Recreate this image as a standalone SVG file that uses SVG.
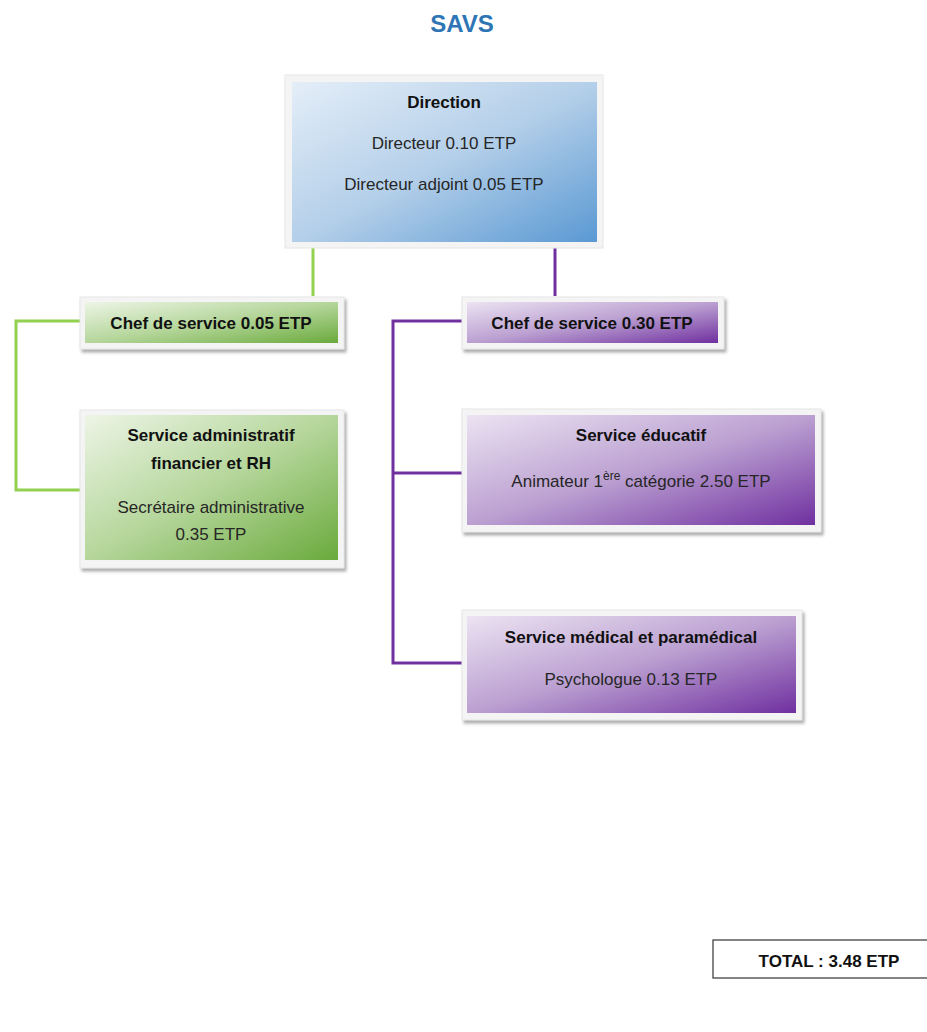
<svg xmlns="http://www.w3.org/2000/svg" width="927" height="1032" viewBox="0 0 927 1032">
<defs>
<linearGradient id="gBlue" x1="0" y1="0" x2="1" y2="1"><stop offset="0" stop-color="#e4eef8"/><stop offset="0.5" stop-color="#b4cfe9"/><stop offset="1" stop-color="#5a99d3"/></linearGradient>
<linearGradient id="gGreen" x1="0" y1="0" x2="1" y2="1"><stop offset="0" stop-color="#edf5e6"/><stop offset="0.5" stop-color="#b5d69b"/><stop offset="1" stop-color="#6aaa3c"/></linearGradient>
<linearGradient id="gPurple" x1="0" y1="0" x2="1" y2="1"><stop offset="0" stop-color="#ece3f2"/><stop offset="0.5" stop-color="#bba0d1"/><stop offset="1" stop-color="#7030a0"/></linearGradient>
<filter id="sh" x="-5%" y="-5%" width="115%" height="120%"><feDropShadow dx="2" dy="3" stdDeviation="1.5" flood-color="#8a8a8a" flood-opacity="0.7"/></filter>
</defs>
<style>
.frame{fill:#f4f4f4;stroke:#e6e6e6;stroke-width:1}
.t{font-family:"Liberation Sans",Arial,sans-serif;font-size:17px;fill:#262626;text-anchor:middle}
.b{font-weight:bold;fill:#111}
.cg{fill:none;stroke:#92d050;stroke-width:3}
.cp{fill:none;stroke:#7030a0;stroke-width:3}
</style>
<text x="462" y="32" font-family="'Liberation Sans',Arial,sans-serif" font-size="24" font-weight="bold" fill="#2e75b6" text-anchor="middle">SAVS</text>
<g id="connectors">
<path class="cg" d="M313 248 V296"/>
<path class="cp" d="M555 248 V296"/>
<path class="cg" d="M80 321 H16 V490 H80"/>
<path class="cp" d="M462 321 H393 V663 H462 M393 473 H462"/>
</g>
<g id="direction">
<rect class="frame" x="285" y="75" width="318" height="173"/>
<rect x="292" y="82" width="305" height="160" fill="url(#gBlue)"/>
<text class="t b" x="444" y="108" font-size="16">Direction</text>
<text class="t" x="444" y="149">Directeur 0.10 ETP</text>
<text class="t" x="444" y="190">Directeur adjoint 0.05 ETP</text>
</g>
<g id="chef-left">
<rect class="frame" x="80" y="297" width="264" height="52" filter="url(#sh)"/>
<rect x="85" y="302" width="253" height="41" fill="url(#gGreen)"/>
<text class="t b" x="211" y="329" font-size="19">Chef de service 0.05 ETP</text>
</g>
<g id="service-admin">
<rect class="frame" x="80" y="410" width="264" height="158" filter="url(#sh)"/>
<rect x="85" y="415" width="253" height="145" fill="url(#gGreen)"/>
<text class="t b" x="211" y="441" font-size="19">Service administratif</text>
<text class="t b" x="211" y="469" font-size="19">financier et RH</text>
<text class="t" x="211" y="513" font-size="20">Secrétaire administrative</text>
<text class="t" x="211" y="540" font-size="20">0.35 ETP</text>
</g>
<g id="chef-right">
<rect class="frame" x="462" y="297" width="262" height="52" filter="url(#sh)"/>
<rect x="467" y="302" width="251" height="41" fill="url(#gPurple)"/>
<text class="t b" x="592" y="329" font-size="19">Chef de service 0.30 ETP</text>
</g>
<g id="service-educatif">
<rect class="frame" x="462" y="409" width="359" height="123" filter="url(#sh)"/>
<rect x="467" y="415" width="348" height="110" fill="url(#gPurple)"/>
<text class="t b" x="641" y="441" font-size="19">Service éducatif</text>
<text class="t" x="641" y="487" font-size="19">Animateur 1<tspan font-size="12" dy="-7">ère</tspan><tspan dy="7"> catégorie 2.50 ETP</tspan></text>
</g>
<g id="service-medical">
<rect class="frame" x="462" y="610" width="340" height="110" filter="url(#sh)"/>
<rect x="467" y="616" width="329" height="97" fill="url(#gPurple)"/>
<text class="t b" x="631" y="643" font-size="19">Service médical et paramédical</text>
<text class="t" x="631" y="685" font-size="19">Psychologue 0.13 ETP</text>
</g>
<g id="total">
<rect x="713" y="940" width="230" height="38" fill="#fff" stroke="#333" stroke-width="1.2"/>
<text class="t b" x="829" y="967" font-size="18">TOTAL : 3.48 ETP</text>
</g>
</svg>
